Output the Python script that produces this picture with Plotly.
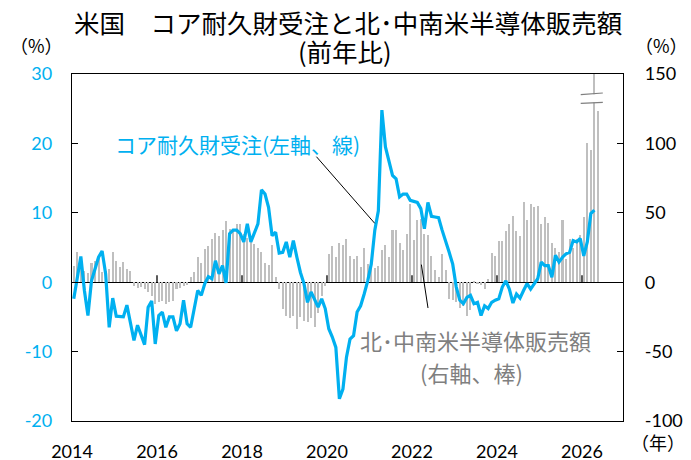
import pandas as pd
import plotly.graph_objects as go

# ---------------- data ----------------
months = pd.date_range("2014-01-01", periods=149, freq="MS")

# US core durable goods orders, YoY % (left axis, line) 2014-01 .. 2026-04
core_orders = [
    -2.4, 0.5, 3.7, -1.2, -4.8, 0.2, 1.9, 3.6, 4.5, 1.2, -6.5, -2.3,
    -4.9, -5.0, -5.0, -3.3, -6.0, -8.4, -6.2, -7.5, -9.0, -3.6, -2.7, -8.9,
    -4.8, -4.3, -6.5, -5.0, -5.0, -7.0, -6.0, -2.6, -6.0, -6.5, -4.1, -1.2,
    -1.9, -0.2, 0.8, 0.5, 3.1, 1.2, 2.4, -0.1, 7.0, 7.5, 7.5, 7.0,
    5.8, 8.4, 5.8, 7.0, 8.4, 13.3, 12.7, 10.8, 6.7, 7.2, 4.2, 4.3,
    5.8, 3.6, 6.0, 3.6, 1.4, -0.2, -2.9, -1.4, -2.4, -3.6, -2.4, -3.8,
    -6.7, -7.9, -9.4, -16.8, -15.4, -10.8, -8.2, -7.7, -4.3, -3.4, -1.7, 0.2,
    2.6, 7.5, 10.3, 24.8, 19.5, 17.5, 15.4, 14.9, 12.3, 12.7, 12.7, 11.8,
    11.7, 11.5, 10.6, 7.7, 11.5, 9.5, 9.4, 9.3, 7.5, 6.0, 4.3, 2.6,
    -0.7, -2.6, -3.1, -2.2, -1.9, -3.1, -2.9, -4.8, -3.4, -3.8, -2.9, -2.6,
    -2.4, -0.7, 0.2, -1.0, -3.0, -1.7, -2.3, -1.2, -0.2, -1.0, -0.2, 0.5,
    2.9, 2.4, 2.4, 0.7, 3.9, 2.9, 3.6, 4.1, 4.3, 6.0, 5.8, 6.3,
    3.8, 5.8, 9.9, 10.4,
]

# Americas semiconductor sales, YoY % (right axis, bars) 2014-01 .. 2026-05
semis = [
    12, 22, 17, 8.4, 6.5, 13.7, 15.6, 18, 7, 8.4, 9.6, 21.6,
    15.6, 11.3, 14.4, 9.6, 8.4, -2.4, -4, -3.6, -4.8, -7.2, -9.6, -15.6,
    -14.4, -13.2, -15.6, -14.4, -13.2, -4.8, -4, -2.4, -1.7, 3.6, 7.2, 18,
    13.7, 24, 26.4, 31, 35.6, 33, 37.7, 44, 38.5, 38.5, 41.6, 42,
    35, 32, 32, 27.6, 25, 22, 13.7, 12.7, 27, 3.6, -4.8, -19,
    -24, -26, -24, -33.6, -25, -27.6, -29, -26, -32, -22, -10, -3,
    20, 26.4, 18, 28, 27, 31, 19, 17, 19, 11, 24.5, 13,
    10, 10, 12, 23.5, 27, 18, 37.7, 37.7, 28, 23, 35, 56,
    30.5, 45, 45.7, 35, 34, 19, 9, 4, 20, 9, -12, -13,
    -14.4, -18.5, -17, -24, -20, 1, -1, -2, -5, 2, 21, 19,
    30, 30, 37, 42, 48, 37, 33, 58, 44.5, 56, 54, 54.6,
    41.6, 47, 43, 28, 25, 21.6, 44.5, 17, 31, 25, 31, 34,
    47, 100, 95, 180, 123,   # 180: beyond the axis (broken bar)
]

year_ticks = [2014, 2016, 2018, 2020, 2022, 2024, 2026]
left_ticks = [-20, -10, 0, 10, 20, 30]
right_ticks = [-100, -50, 0, 50, 100, 150]

# ---------------- styling ----------------
CYAN = "#00B0F0"
BARGRAY = "#BFBFBF"
TXTGRAY = "#7F7F7F"
JP = "Noto Sans CJK JP"
NUM = "Lato, Noto Sans CJK JP"

x_all = [d.year + (d.month - 0.5) / 12 for d in months]
x_line = x_all[:len(core_orders)]

fig = go.Figure()
fig.add_trace(go.Bar(
    x=x_all, y=semis, yaxis="y", width=0.048,
    marker=dict(color=BARGRAY, line=dict(width=0)),
    showlegend=False, hoverinfo="skip",
))
fig.add_trace(go.Scatter(
    x=x_line, y=core_orders, yaxis="y2", mode="lines",
    line=dict(color=CYAN, width=3.2),
    showlegend=False, hoverinfo="skip",
))

# the page body adds an 8px margin, so the figure is 8px smaller than the window
fig.update_layout(
    width=683, height=452,
    margin=dict(l=64, r=68, t=66, b=39, autoexpand=False),
    paper_bgcolor="white", plot_bgcolor="white",
    bargap=0,
    xaxis=dict(
        range=[2014, 2014 + 12.965], tickvals=year_ticks,
        ticktext=[str(v) for v in year_ticks],
        showgrid=False, zeroline=False, automargin=False,
        showline=True, mirror=True, linecolor="black", linewidth=1.3,
        ticks="", ticklabelstandoff=14,
        tickfont=dict(family=NUM, size=18, color="black"),
    ),
    yaxis=dict(  # bars, right axis
        range=[-100, 150], tickvals=right_ticks,
        ticktext=[str(v) for v in right_ticks], side="right",
        showgrid=False, zeroline=True, zerolinecolor="black", zerolinewidth=1.3,
        showline=True, linecolor="black", linewidth=1.3, automargin=False,
        ticks="inside", ticklen=6, tickcolor="black",
        ticklabelstandoff=17,
        tickfont=dict(family=NUM, size=18, color="black"),
    ),
    yaxis2=dict(  # line, left axis
        range=[-20, 30], tickvals=left_ticks,
        ticktext=[str(v) for v in left_ticks], side="left",
        overlaying="y", anchor="x",
        showgrid=False, zeroline=False, automargin=False,
        showline=True, linecolor="black", linewidth=1.3,
        ticks="inside", ticklen=6, tickcolor="black",
        ticklabelstandoff=15,
        tickfont=dict(family=NUM, size=18, color=CYAN),
    ),
)

# year ticks on the zero line, pointing up
for yv in year_ticks[1:]:
    fig.add_shape(type="line", xref="x", yref="y", x0=yv, x1=yv,
                  ysizemode="pixel", yanchor=0, y0=0, y1=7,
                  line=dict(color="black", width=1.3), layer="below")

# axis-break marks on the clipped bar
brk_x0, brk_x1 = 2025.97, 2026.49
fig.add_shape(type="rect", xref="x", yref="y", x0=brk_x0 + 0.03, x1=brk_x1 - 0.03,
              y0=129.5, y1=135.4, fillcolor="white", line=dict(width=0), layer="above")
fig.add_shape(type="line", xref="x", yref="y", x0=brk_x0, x1=brk_x1, y0=135.2, y1=136.3,
              line=dict(color="#7F7F7F", width=1.2), layer="above")
fig.add_shape(type="line", xref="x", yref="y", x0=brk_x0, x1=brk_x1, y0=128.9, y1=129.5,
              line=dict(color="#7F7F7F", width=1.2), layer="above")

# leader lines
fig.add_shape(type="line", xref="paper", yref="paper", x0=0.4436, y0=0.7617,
              x1=0.5494, y1=0.5697, line=dict(color="black", width=1))
fig.add_shape(type="line", xref="paper", yref="paper", x0=0.6341, y0=0.4507,
              x1=0.6461, y1=0.3256, line=dict(color="black", width=1))

ann = [
    dict(text="米国　コア耐久財受注と北･中南米半導体販売額", x=0.5012, y=1.1520,
         font=dict(family=JP, size=25.5, color="black")),
    dict(text="(前年比)", x=0.4958, y=1.0663,
         font=dict(family=JP, size=25.5, color="black")),
    dict(text="コア耐久財受注(左軸、線)", x=0.2999, y=0.7997,
         font=dict(family=JP, size=21, color=CYAN)),
    dict(text="北･中南米半導体販売額", x=0.7318, y=0.2334,
         font=dict(family=JP, size=22, color=TXTGRAY)),
    dict(text="(右軸、棒)", x=0.7245, y=0.1421,
         font=dict(family=JP, size=22, color=TXTGRAY)),
    dict(text="（%）", x=-0.065, y=1.0836,
         font=dict(family=JP, size=18, color="black")),
    dict(text="（%）", x=1.070, y=1.0836,
         font=dict(family=JP, size=18, color="black")),
    dict(text="（年）", x=1.064, y=-0.060,
         font=dict(family=JP, size=18, color="black")),
]
for a in ann:
    fig.add_annotation(xref="paper", yref="paper", showarrow=False,
                       xanchor="center", yanchor="middle", **a)

fig.write_html("out.html")
